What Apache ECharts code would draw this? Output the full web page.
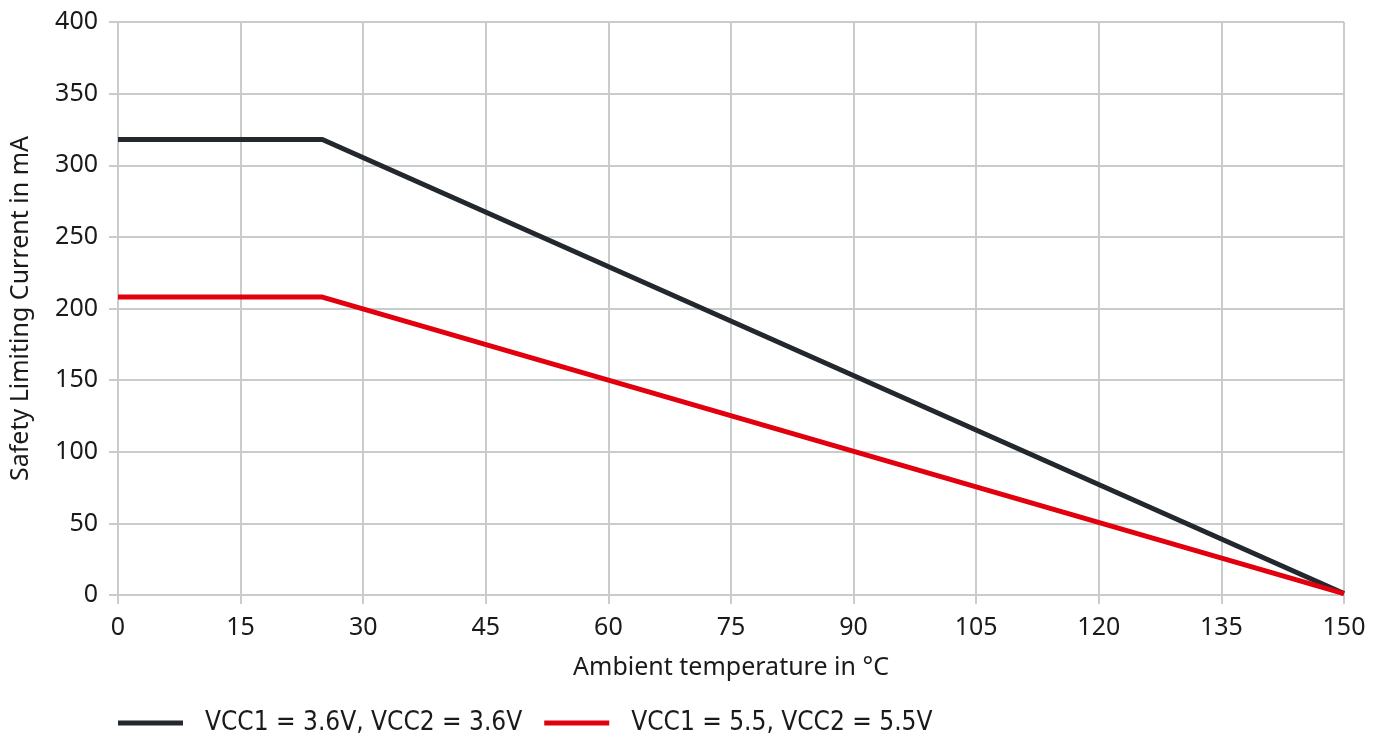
<!DOCTYPE html>
<html>
<head>
<meta charset="utf-8">
<script src="https://cdn.jsdelivr.net/npm/echarts@6/dist/echarts.min.js"></script>
<style>
  html, body { margin: 0; padding: 0; background: #fff; }
  #chart { width: 1388px; height: 736px; }
</style>
</head>
<body>
<div id="chart"></div>
<script>
const seriesNames = ['VCC1 = 3.6V, VCC2 = 3.6V', 'VCC1 = 5.5, VCC2 = 5.5V']
const temps = [0, 25, 150]
const current36 = [318, 318, 1]
const current55 = [208, 208, 1]

const gridColor = '#c8cccc'
const textColor = '#1a1a1a'

const chart = echarts.init(document.getElementById('chart'))

const toPoints = (vals) => temps.map((t, i) => [t, vals[i]])

const option = {
  animation: false,
  textStyle: { fontFamily: 'Noto Sans' },
  grid: { left: 118, right: 44, top: 22, bottom: 141, outerBoundsMode: 'none' },
  legend: {
    left: 118,
    bottom: 0,
    padding: 0,
    icon: 'rect',
    itemWidth: 65,
    itemHeight: 5,
    itemGap: 22,
    data: seriesNames,
    textStyle: {
      fontFamily: "'DejaVu Sans Condensed', 'Liberation Sans Narrow', 'Noto Sans'",
      fontSize: 26,
      color: textColor,
      padding: [0, 0, 0, 17],
    },
  },
  xAxis: {
    type: 'value',
    min: 0,
    max: 150,
    interval: 15,
    name: 'Ambient temperature in °C',
    nameLocation: 'middle',
    nameGap: 60,
    nameTextStyle: { fontSize: 25, color: textColor },
    axisLine: { lineStyle: { color: gridColor, width: 2 } },
    axisTick: { length: 9, lineStyle: { color: gridColor, width: 2 } },
    axisLabel: { fontSize: 25, color: textColor, margin: 20 },
    splitLine: { lineStyle: { color: gridColor, width: 2 } },
  },
  yAxis: {
    type: 'value',
    min: 0,
    max: 400,
    interval: 50,
    name: 'Safety Limiting Current in mA',
    nameLocation: 'middle',
    nameGap: 85,
    nameTextStyle: { fontSize: 25, color: textColor },
    axisLine: { show: true, lineStyle: { color: gridColor, width: 2 } },
    axisTick: { show: true, length: 9, lineStyle: { color: gridColor, width: 2 } },
    axisLabel: { fontSize: 25, color: textColor, margin: 20 },
    splitLine: { lineStyle: { color: gridColor, width: 2 } },
  },
  series: [
    {
      name: seriesNames[0],
      type: 'line',
      data: toPoints(current36),
      showSymbol: false,
      color: '#22282e',
      lineStyle: { width: 5, color: '#22282e' },
    },
    {
      name: seriesNames[1],
      type: 'line',
      data: toPoints(current55),
      showSymbol: false,
      color: '#e2000f',
      lineStyle: { width: 5, color: '#e2000f' },
    },
  ],
}

chart.setOption(option)
</script>
</body>
</html>
